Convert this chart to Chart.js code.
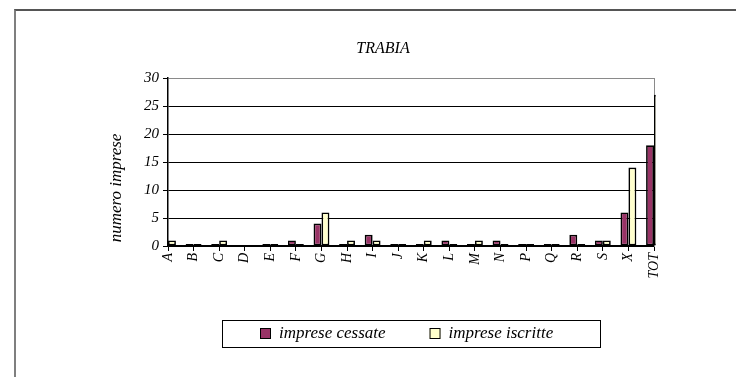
<!DOCTYPE html>
<html>
<head>
<meta charset="utf-8">
<script src="https://cdn.jsdelivr.net/npm/chart.js@4.4.0/dist/chart.umd.min.js"></script>
<style>
  html, body { margin: 0; padding: 0; background: #fff; overflow: hidden; }
  #wrap { position: relative; width: 736px; height: 377px; }
  #frame { position: absolute; left: 14px; top: 9px; width: 800px; height: 400px;
           border-left: 2px solid #7f7f7f; border-top: 2px solid #555; }
  canvas { position: absolute; left: 0; top: 0; }
</style>
</head>
<body>
<div id="wrap">
  <div id="frame"></div>
  <canvas id="myChart" width="736" height="377"></canvas>
</div>
<script>
const chartTitle = "TRABIA";
const yTitle = "numero imprese";
const categories = ["A", "B", "C", "D", "E", "F", "G", "H", "I", "J", "K", "L", "M", "N", "P", "Q", "R", "S", "X", "TOT"];
const cessate = [0, 0, 0, null, 0, 1, 4, 0, 2, 0, 0, 1, 0, 1, 0, 0, 2, 1, 6, 18];
const iscritte = [1, 0, 1, null, 0, 0, 6, 1, 1, 0, 1, 0, 1, 0, 0, 0, 0, 1, 14, 27];
const seriesNames = ["imprese cessate", "imprese iscritte"];
const seriesColors = ["#993366", "#ffffcc"];

const serif = "'Liberation Serif', 'Times New Roman', serif";

// titles and boxed legend, drawn on the canvas
const extras = {
  id: "extras",
  afterDraw(chart) {
    const ctx = chart.ctx;
    ctx.save();
    ctx.fillStyle = "#000";
    ctx.textBaseline = "middle";
    ctx.textAlign = "center";
    ctx.font = "italic 16px " + serif;
    ctx.fillText(chartTitle, 383, 49);

    ctx.save();
    ctx.translate(117, 188);
    ctx.rotate(-Math.PI / 2);
    ctx.font = "italic 17px " + serif;
    ctx.fillText(yTitle, 0, 0);
    ctx.restore();

    // legend
    ctx.strokeStyle = "#000";
    ctx.lineWidth = 1;
    ctx.strokeRect(222.5, 320.5, 378, 27);
    ctx.textAlign = "left";
    ctx.font = "italic 17px " + serif;
    let x = 260;
    chart.data.datasets.forEach((ds) => {
      ctx.fillStyle = ds.backgroundColor;
      ctx.fillRect(x, 328, 11, 11);
      ctx.strokeRect(x + 0.5, 328.5, 10, 10);
      ctx.fillStyle = "#000";
      ctx.fillText(ds.label, x + 19, 334);
      x += 19 + ctx.measureText(ds.label).width + 44;
    });
    ctx.restore();
  },
};

const canvas = document.getElementById("myChart");
new Chart(canvas, {
  type: "bar",
  data: {
    labels: categories,
    datasets: [
      { label: seriesNames[0], data: cessate, backgroundColor: seriesColors[0] },
      { label: seriesNames[1], data: iscritte, backgroundColor: seriesColors[1] },
    ],
  },
  options: {
    responsive: false,
    animation: false,
    layout: { padding: { left: 108, right: 82, top: 78, bottom: 71 } },
    datasets: {
      bar: {
        borderColor: "#000",
        borderWidth: 1.7,
        borderSkipped: false,
        categoryPercentage: 0.62,
        barPercentage: 1.0,
        minBarLength: 2,
        clip: { left: 0, top: 0, right: 1.7, bottom: 0 },
      },
    },
    plugins: {
      legend: { display: false },
      title: { display: false },
      tooltip: { enabled: false },
    },
    scales: {
      x: {
        offset: false,
        grid: {
          offset: false,
          drawOnChartArea: false,
          drawTicks: true,
          tickLength: 5,
          color: "#000",
        },
        border: { display: true, color: "#000", width: 1.5 },
        ticks: {
          minRotation: 90,
          maxRotation: 90,
          autoSkip: false,
          padding: 2,
          color: "#000",
          font: { family: serif, size: 14, style: "italic" },
        },
        afterFit(scale) {
          scale.height = 60;
        },
      },
      y: {
        min: 0,
        max: 30,
        ticks: {
          stepSize: 5,
          padding: 4,
          color: "#000",
          font: { family: serif, size: 15, style: "italic" },
        },
        grid: {
          color: (c) => (c.tick && c.tick.value === 30 ? "#8a8a8a" : "#000"),
          tickColor: "#000",
          tickLength: 5,
          lineWidth: 1,
        },
        border: { display: true, color: "#000", width: 1.5 },
        afterFit(scale) {
          scale.width = 60;
        },
      },
      y2: {
        position: "right",
        min: 0,
        max: 30,
        ticks: { display: false },
        grid: { display: false },
        border: { display: true, color: "#8a8a8a", width: 1 },
        afterFit(scale) {
          scale.width = 0;
        },
      },
    },
  },
  plugins: [extras],
});
</script>
</body>
</html>
